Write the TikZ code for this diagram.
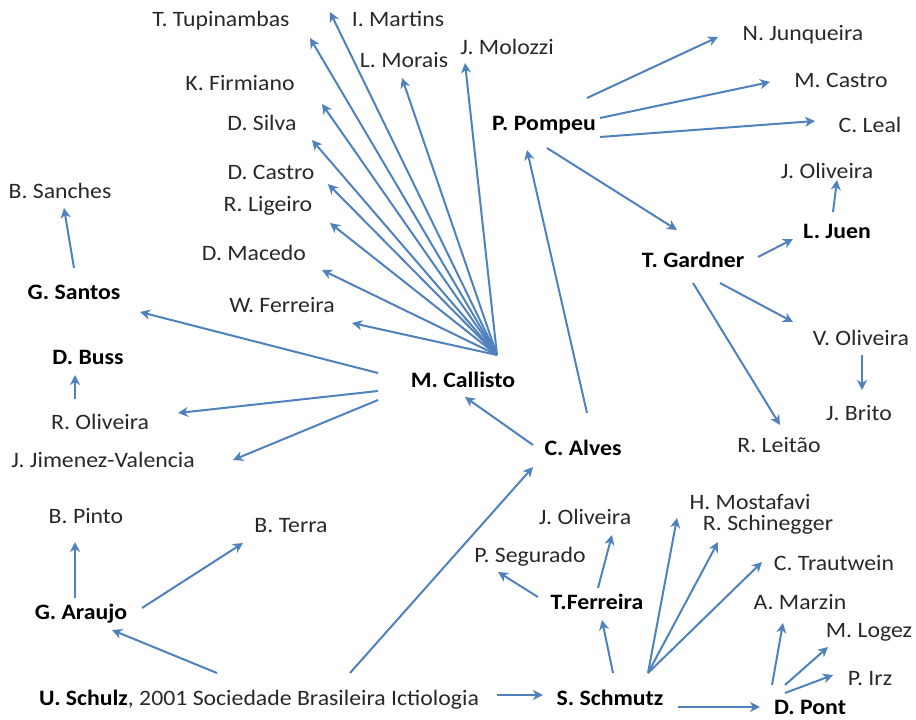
\documentclass[tikz,border=0pt]{standalone}
\usepackage{fontspec}
\setmainfont{Carlito}[FakeStretch=1.08]
\usetikzlibrary{arrows.meta,calc}
\definecolor{arrblue}{RGB}{79,129,189}
\definecolor{txt}{RGB}{40,40,40}
\begin{document}
\begin{tikzpicture}[x=1pt,y=-1pt,
  lbl/.style={inner sep=0pt,text height=14pt,text depth=0pt,font=\fontsize{22}{24}\selectfont,text=txt},
  bl/.style={inner sep=0pt,text height=14pt,text depth=0pt,font=\fontsize{22}{24}\selectfont\bfseries,text=black},
  arr/.style={draw=arrblue,line width=2pt,-{Stealth[length=10pt,width=10pt,inset=3pt]}}]
\useasboundingbox (0,0) rectangle (916,720);
% nodes
\node[lbl] (ttu) at (221,20) {T. Tupinambas};
\node[lbl] (ima) at (398,20) {I. Martins};
\node[lbl] (lmo) at (404,60) {L. Morais};
\node[lbl] (jmo) at (507,47) {J. Molozzi};
\node[lbl] (kfi) at (240,83) {K. Firmiano};
\node[lbl] (dsi) at (262,123) {D. Silva};
\node[lbl] (dca) at (271,172) {D. Castro};
\node[lbl] (rli) at (268,204) {R. Ligeiro};
\node[lbl] (bsa) at (60,191) {B. Sanches};
\node[lbl] (dma) at (254,253) {D. Macedo};
\node[lbl] (wfe) at (282,305) {W. Ferreira};
\node[bl] (gsa) at (74,292) {G. Santos};
\node[bl] (dbu) at (88,357) {D. Buss};
\node[lbl] (rol) at (100,422) {R. Oliveira};
\node[lbl] (jjv) at (103,460) {J. Jimenez-Valencia};
\node[bl] (mc) at (463,380) {M. Callisto};
\node[bl] (pp) at (544,123) {P. Pompeu};
\node[lbl] (nju) at (803,33) {N. Junqueira};
\node[lbl] (mca) at (841,80) {M. Castro};
\node[lbl] (cle) at (870,125) {C. Leal};
\node[lbl] (joa) at (827,171) {J. Oliveira};
\node[bl] (lju) at (837,231) {L. Juen};
\node[bl] (tga) at (693,260) {T. Gardner};
\node[lbl] (vol) at (861,338) {V. Oliveira};
\node[lbl] (jbr) at (859,413) {J. Brito};
\node[lbl] (rle) at (779,445) {R. Leitão};
\node[bl] (cal) at (583,448) {C. Alves};
\node[lbl] (bpi) at (86,516) {B. Pinto};
\node[lbl] (bte) at (291,525) {B. Terra};
\node[bl] (gar) at (81,612) {G. Araujo};
\node[lbl] (usc) at (259,698) {\textbf{\color{black}U. Schulz}, 2001 Sociedade Brasileira Ictiologia};
\node[bl] (ssc) at (610,698) {S. Schmutz};
\node[bl] (dpo) at (810,707) {D. Pont};
\node[lbl] (job) at (585,517) {J. Oliveira};
\node[lbl] (pse) at (530,555) {P. Segurado};
\node[bl] (tfe) at (597,602) {T.Ferreira};
\node[lbl] (hmo) at (750,502) {H. Mostafavi};
\node[lbl] (rsc) at (768,523) {R. Schinegger};
\node[lbl] (ctr) at (834,563) {C. Trautwein};
\node[lbl] (ama) at (800,602) {A. Marzin};
\node[lbl] (mlo) at (869,630) {M. Logez};
\node[lbl] (pir) at (870,678) {P. Irz};
% hubs
\coordinate (mchub) at ($(mc)+(34,-25)$);
\coordinate (sschub) at ($(ssc)+(38,-25)$);
% M. Callisto fan
\draw[arr] (mchub) -- ($(ttu)+(89,18)$);
\draw[arr] (mchub) -- ($(ima)+(-68,-8)$);
\draw[arr] (mchub) -- ($(lmo)+(-2,18)$);
\draw[arr] (mchub) -- ($(jmo)+(-42,16)$);
\draw[arr] (mchub) -- ($(kfi)+(82,21)$);
\draw[arr] (mchub) -- ($(dsi)+(50,17)$);
\draw[arr] (mchub) -- ($(dca)+(57,12)$);
\draw[arr] (mchub) -- ($(rli)+(62,19)$);
\draw[arr] (mchub) -- ($(dma)+(68,17)$);
\draw[arr] (mchub) -- ($(wfe)+(70,18)$);
% M. Callisto left
\draw[arr] ($(mc)+(-85,-7)$) -- ($(gsa)+(66,20)$);
\draw[arr] ($(mc)+(-85,11)$) -- ($(rol)+(78,-9)$);
\draw[arr] ($(mc)+(-85,20)$) -- ($(jjv)+(130,0)$);
\draw[arr] ($(rol)+(-25,-23)$) -- ($(dbu)+(-13,18)$);
\draw[arr] ($(gsa)+(0,-24)$) -- ($(bsa)+(4,17)$);
% C. Alves
\draw[arr] ($(cal)+(-50,-3)$) -- ($(mc)+(2,17)$);
\draw[arr] ($(cal)+(4,-35)$) -- ($(pp)+(-17,27)$);
\draw[arr] ($(usc)+(91,-25)$) -- ($(cal)+(-50,19)$);
% U. Schulz
\draw[arr] ($(usc)+(-42,-25)$) -- ($(gar)+(31,18)$);
\draw[arr] ($(usc)+(238,-3)$) -- ($(ssc)+(-67,-3)$);
% P. Pompeu
\draw[arr] ($(pp)+(43,-25)$) -- ($(nju)+(-85,4)$);
\draw[arr] ($(pp)+(56,-5)$) -- ($(mca)+(-71,2)$);
\draw[arr] ($(pp)+(56,14)$) -- ($(cle)+(-55,-4)$);
\draw[arr] ($(pp)+(3,25)$) -- ($(tga)+(-16,-30)$);
% T. Gardner
\draw[arr] ($(tga)+(65,-3)$) -- ($(lju)+(-44,8)$);
\draw[arr] ($(lju)+(-4,-19)$) -- ($(joa)+(10,9)$);
\draw[arr] ($(tga)+(27,23)$) -- ($(vol)+(-68,-16)$);
\draw[arr] ($(tga)+(0,23)$) -- ($(rle)+(1,-20)$);
\draw[arr] ($(vol)+(1,17)$) -- ($(jbr)+(3,-23)$);
% G. Araujo
\draw[arr] ($(gar)+(-6,-14)$) -- ($(bpi)+(-11,26)$);
\draw[arr] ($(gar)+(61,-4)$) -- ($(bte)+(-48,18)$);
% S. Schmutz
\draw[arr] ($(ssc)+(68,9)$) -- ($(dpo)+(-50,0)$);
\draw[arr] ($(ssc)+(3,-25)$) -- ($(tfe)+(5,18)$);
\draw[arr] ($(tfe)+(1,-14)$) -- ($(job)+(27,18)$);
\draw[arr] ($(tfe)+(-59,-5)$) -- ($(pse)+(-32,17)$);
\draw[arr] (sschub) -- ($(hmo)+(-73,16)$);
\draw[arr] (sschub) -- ($(rsc)+(-50,19)$);
\draw[arr] (sschub) -- ($(ctr)+(-72,-1)$);
% D. Pont
\draw[arr] ($(dpo)+(-38,-22)$) -- ($(ama)+(-17,21)$);
\draw[arr] ($(dpo)+(-25,-22)$) -- ($(mlo)+(-41,17)$);
\draw[arr] ($(dpo)+(-25,-14)$) -- ($(pir)+(-37,-3)$);
\end{tikzpicture}
\end{document}
